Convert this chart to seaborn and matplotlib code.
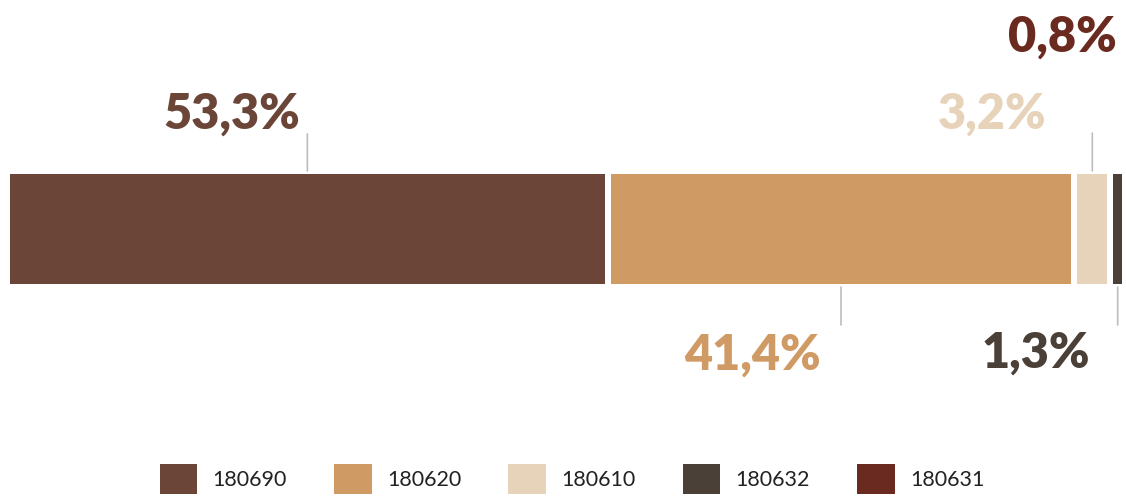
import numpy as np
import pandas as pd
import matplotlib
matplotlib.use("Agg")
import matplotlib.pyplot as plt
from matplotlib.patches import Patch
import seaborn as sns

# Share of each product code
codes = ["180690", "180620", "180610", "180632", "180631"]
shares = [53.3, 41.4, 3.2, 1.3, 0.8]
labels = ["53,3%", "41,4%", "3,2%", "1,3%", "0,8%"]
colors = ["#6B4537", "#CF9A63", "#E7D3BA", "#4A4037", "#6B2A1F"]

sns.set_theme(style="white")
plt.rcParams["font.family"] = ["Lato", "DejaVu Sans"]

DPI = 100
W, H = 1126, 499
fig = plt.figure(figsize=(W / DPI, H / DPI), dpi=DPI)

PX = 72.0 / DPI  # points per pixel

# axes spans the bar plus half of the white separator stroke
pad = 3
ax = fig.add_axes([(10 - pad) / W, (H - 284 - pad) / H, (1122 - 10 + 2 * pad) / W, (110 + 2 * pad) / H])

cum = np.cumsum(shares)
starts = cum - np.array(shares)
df = pd.DataFrame({"code": codes, "cum": cum, "row": ["all"] * len(codes)})

# stacked bar: draw cumulative totals from the longest to the shortest
order = codes[::-1]
sns.barplot(data=df, x="cum", y="row", hue="code", hue_order=order,
            palette=dict(zip(codes, colors)), saturation=1, dodge=False, width=0.8,
            orient="h", edgecolor="white", linewidth=6 * PX, ax=ax, legend=False)

visible_total = cum[-2]
ax.set_xlim(0, visible_total)
ax.set_ylim(0.4, -0.4)
ax.axis("off")

# label placement: (side, line length px, text dx px, baseline dy px)
place = [
    ("top", 37, -7, 42),
    ("bottom", 38, -20, 83),
    ("top", 38, -46, 42),
    ("bottom", 38, -28, 81),
    ("top", 0, -13, 119),
]

line_color = "#BDBDBD"
for i, (side, llen, dx, dy) in enumerate(place):
    cx = starts[i] + shares[i] / 2
    yref = -0.4 if side == "top" else 0.4
    sign = 1 if side == "top" else -1
    if llen:
        ax.annotate("", xy=(cx, yref), xycoords="data",
                    xytext=(0, sign * llen * PX), textcoords="offset points",
                    arrowprops=dict(arrowstyle="-", color=line_color, lw=1.2,
                                    shrinkA=0, shrinkB=0),
                    annotation_clip=False)
    ax.annotate(labels[i], xy=(cx, yref), xycoords="data",
                xytext=(dx * PX, sign * dy * PX), textcoords="offset points",
                ha="right", va="baseline", fontsize=35, fontweight="heavy",
                color=colors[i], annotation_clip=False)

handles = [Patch(facecolor=c, edgecolor="none", label=k) for k, c in zip(codes, colors)]
fig.legend(handles=handles, loc="lower center", bbox_to_anchor=(572 / W, -0.012),
           ncol=5, frameon=False, fontsize=15.5, handlelength=1.75, handleheight=1.8,
           handletextpad=0.7, columnspacing=2.2, borderpad=0, labelcolor="#222222")

fig.savefig("out.png", dpi=DPI)
